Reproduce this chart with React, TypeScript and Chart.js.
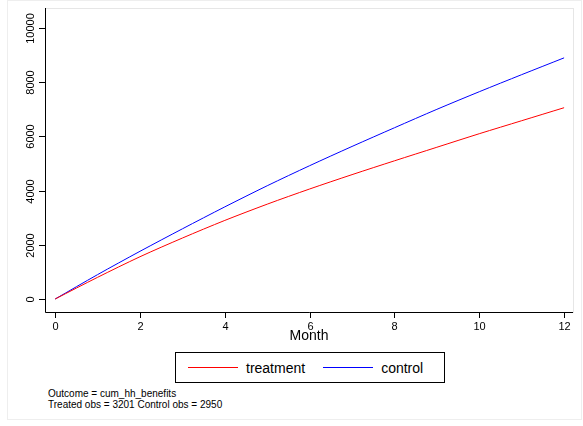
import { useEffect, useRef } from "react";
import { Chart, registerables } from "chart.js";

Chart.register(...registerables);

const months = [0, 1, 2, 3, 4, 5, 6, 7, 8, 9, 10, 11, 12];
const treatment = [0, 800, 1560, 2250, 2900, 3500, 4060, 4590, 5100, 5600, 6100, 6580, 7060];
const control = [0, 900, 1760, 2590, 3400, 4180, 4920, 5630, 6320, 7000, 7650, 8280, 8900];
const xTicks = [0, 2, 4, 6, 8, 10, 12];
const yTicks = [0, 2000, 4000, 6000, 8000, 10000];

const axesPlugin = {
  id: "stataAxes",
  afterDraw(chart: any) {
    const { ctx, chartArea: a, scales } = chart;
    ctx.save();
    ctx.strokeStyle = "#e6e6e6";
    ctx.lineWidth = 1;
    ctx.strokeRect(a.left + 0.5, a.top + 0.5, a.right - a.left, a.bottom - a.top);
    ctx.strokeStyle = "#000";
    ctx.beginPath();
    ctx.moveTo(a.left + 0.5, a.top);
    ctx.lineTo(a.left + 0.5, a.bottom + 0.5);
    ctx.lineTo(a.right, a.bottom + 0.5);
    ctx.stroke();
    ctx.fillStyle = "#000";
    ctx.font = "11px Arial, 'Liberation Sans', sans-serif";
    for (const t of xTicks) {
      const x = Math.round(scales.x.getPixelForValue(t)) + 0.5;
      ctx.beginPath();
      ctx.moveTo(x, a.bottom);
      ctx.lineTo(x, a.bottom + 6);
      ctx.stroke();
      ctx.textAlign = "center";
      ctx.textBaseline = "top";
      ctx.fillText(String(t), x, a.bottom + 9);
    }
    for (const t of yTicks) {
      const y = Math.round(scales.y.getPixelForValue(t)) + 0.5;
      ctx.beginPath();
      ctx.moveTo(a.left, y);
      ctx.lineTo(a.left - 6, y);
      ctx.stroke();
      ctx.save();
      ctx.translate(a.left - 9, y);
      ctx.rotate(-Math.PI / 2);
      ctx.textAlign = "center";
      ctx.textBaseline = "bottom";
      ctx.fillText(String(t), 0, 0);
      ctx.restore();
    }
    ctx.font = "14px Arial, 'Liberation Sans', sans-serif";
    ctx.textAlign = "center";
    ctx.textBaseline = "top";
    ctx.fillText("Month", (a.left + a.right) / 2, a.bottom + 17);
    ctx.restore();
  },
};

export default function App() {
  const ref = useRef<HTMLCanvasElement>(null);

  useEffect(() => {
    if (!ref.current) return;
    const chart = new Chart(ref.current, {
      type: "line",
      data: {
        labels: months,
        datasets: [
          { label: "treatment", data: months.map((m, i) => ({ x: m, y: treatment[i] })), borderColor: "#ff0000", borderWidth: 1, pointRadius: 0, tension: 0.3 },
          { label: "control", data: months.map((m, i) => ({ x: m, y: control[i] })), borderColor: "#0000ff", borderWidth: 1, pointRadius: 0, tension: 0.3 },
        ],
      },
      options: {
        animation: false,
        responsive: false,
        layout: { padding: { top: 8, right: 10, left: 0, bottom: 0 } },
        plugins: { legend: { display: false }, tooltip: { enabled: false } },
        scales: {
          x: {
            type: "linear", min: -0.24, max: 12.21,
            grid: { display: false }, border: { display: false }, ticks: { display: false },
            afterFit: (s: any) => { s.height = 33; },
          },
          y: {
            min: -480, max: 10740,
            grid: { display: false }, border: { display: false }, ticks: { display: false },
            afterFit: (s: any) => { s.width = 45; },
          },
        },
      },
      plugins: [axesPlugin],
    });
    return () => chart.destroy();
  }, []);

  const font = "Arial, 'Liberation Sans', sans-serif";
  return (
    <div style={{ position: "fixed", left: 0, top: 0, width: 583, height: 426, background: "#fff", fontFamily: font }}>
      <div style={{ position: "absolute", left: 7, top: 0, width: 575, height: 420, border: "1px solid #eeeeee", boxSizing: "border-box" }} />
      <canvas ref={ref} width={583} height={345} style={{ position: "absolute", left: 0, top: 0 }} />
      <div style={{ position: "absolute", left: 175, top: 352, width: 270, height: 31, border: "1px solid #000", boxSizing: "border-box", display: "flex", alignItems: "center", fontSize: 14 }}>
        <div style={{ width: 50, height: 0, borderTop: "1px solid #ff0000", marginLeft: 12, marginRight: 8 }} />
        <span>treatment</span>
        <div style={{ width: 50, height: 0, borderTop: "1px solid #0000ff", marginLeft: 18, marginRight: 8 }} />
        <span>control</span>
      </div>
      <div style={{ position: "absolute", left: 48, top: 388, fontSize: 10, lineHeight: "11px" }}>
        Outcome = cum_hh_benefits<br />Treated obs = 3201 Control obs = 2950
      </div>
    </div>
  );
}
